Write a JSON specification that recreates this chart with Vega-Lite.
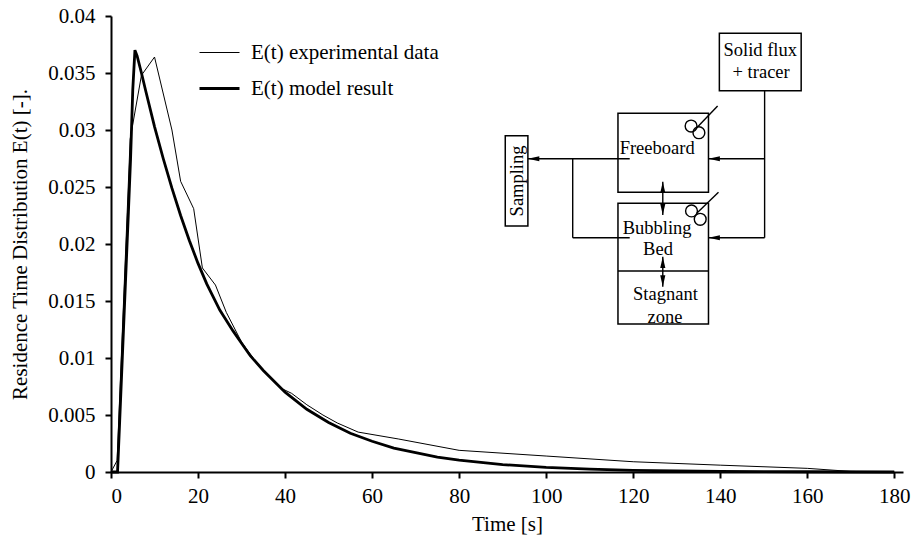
{
  "$schema": "https://vega.github.io/schema/vega-lite/v6.json",
  "autosize": {"type": "none"},
  "padding": {"left": 111, "top": 16, "right": 10, "bottom": 67},
  "width": 792,
  "height": 456,
  "background": "white",
  "config": {
    "font": "Liberation Serif",
    "view": {"stroke": null},
    "axis": {
      "grid": false,
      "domainColor": "black",
      "domainWidth": 2,
      "tickColor": "black",
      "tickWidth": 2,
      "tickSize": 6,
      "labelFont": "Liberation Serif",
      "labelFontSize": 21,
      "labelColor": "black",
      "titleFont": "Liberation Serif",
      "titleFontSize": 21,
      "titleFontWeight": "normal",
      "titleColor": "black"
    },
    "legend": {
      "labelFont": "Liberation Serif",
      "labelFontSize": 21,
      "labelColor": "black",
      "labelLimit": 400
    }
  },
  "datasets": {
    "curves": [
      {"t": 0, "E": 0, "series": "E(t) experimental data"},
      {"t": 1.4, "E": 0.001, "series": "E(t) experimental data"},
      {"t": 4.4, "E": 0.0292, "series": "E(t) experimental data"},
      {"t": 7, "E": 0.0348, "series": "E(t) experimental data"},
      {"t": 10, "E": 0.0364, "series": "E(t) experimental data"},
      {"t": 14, "E": 0.03, "series": "E(t) experimental data"},
      {"t": 16, "E": 0.0255, "series": "E(t) experimental data"},
      {"t": 19, "E": 0.0231, "series": "E(t) experimental data"},
      {"t": 21, "E": 0.0179, "series": "E(t) experimental data"},
      {"t": 24, "E": 0.0164, "series": "E(t) experimental data"},
      {"t": 26.5, "E": 0.014, "series": "E(t) experimental data"},
      {"t": 30, "E": 0.0114, "series": "E(t) experimental data"},
      {"t": 34, "E": 0.0093, "series": "E(t) experimental data"},
      {"t": 38.8, "E": 0.0074, "series": "E(t) experimental data"},
      {"t": 41.5, "E": 0.0069, "series": "E(t) experimental data"},
      {"t": 45, "E": 0.0059, "series": "E(t) experimental data"},
      {"t": 48.7, "E": 0.005, "series": "E(t) experimental data"},
      {"t": 52, "E": 0.0043, "series": "E(t) experimental data"},
      {"t": 56.8, "E": 0.0035, "series": "E(t) experimental data"},
      {"t": 66, "E": 0.0029, "series": "E(t) experimental data"},
      {"t": 80, "E": 0.0019, "series": "E(t) experimental data"},
      {"t": 100, "E": 0.0014, "series": "E(t) experimental data"},
      {"t": 120, "E": 0.0009, "series": "E(t) experimental data"},
      {"t": 140, "E": 0.0006, "series": "E(t) experimental data"},
      {"t": 160, "E": 0.00032, "series": "E(t) experimental data"},
      {"t": 170, "E": 0.00005, "series": "E(t) experimental data"},
      {"t": 180, "E": 0, "series": "E(t) experimental data"},
      {"t": 0, "E": 0, "series": "E(t) model result"},
      {"t": 1.5, "E": 0, "series": "E(t) model result"},
      {"t": 2, "E": 0.0045, "series": "E(t) model result"},
      {"t": 3, "E": 0.0137, "series": "E(t) model result"},
      {"t": 4, "E": 0.0228, "series": "E(t) model result"},
      {"t": 4.5, "E": 0.0275, "series": "E(t) model result"},
      {"t": 5, "E": 0.0335, "series": "E(t) model result"},
      {"t": 5.5, "E": 0.037, "series": "E(t) model result"},
      {"t": 6, "E": 0.0365, "series": "E(t) model result"},
      {"t": 7, "E": 0.035, "series": "E(t) model result"},
      {"t": 8, "E": 0.0334, "series": "E(t) model result"},
      {"t": 10, "E": 0.0303, "series": "E(t) model result"},
      {"t": 12, "E": 0.0275, "series": "E(t) model result"},
      {"t": 14, "E": 0.0249, "series": "E(t) model result"},
      {"t": 16, "E": 0.0225, "series": "E(t) model result"},
      {"t": 18, "E": 0.0203, "series": "E(t) model result"},
      {"t": 20, "E": 0.0183, "series": "E(t) model result"},
      {"t": 22, "E": 0.0165, "series": "E(t) model result"},
      {"t": 25, "E": 0.0142, "series": "E(t) model result"},
      {"t": 28, "E": 0.0124, "series": "E(t) model result"},
      {"t": 30, "E": 0.0113, "series": "E(t) model result"},
      {"t": 32, "E": 0.0102, "series": "E(t) model result"},
      {"t": 35, "E": 0.0089, "series": "E(t) model result"},
      {"t": 40, "E": 0.007, "series": "E(t) model result"},
      {"t": 45, "E": 0.0055, "series": "E(t) model result"},
      {"t": 50, "E": 0.00435, "series": "E(t) model result"},
      {"t": 55, "E": 0.0034, "series": "E(t) model result"},
      {"t": 60, "E": 0.0027, "series": "E(t) model result"},
      {"t": 65, "E": 0.0021, "series": "E(t) model result"},
      {"t": 70, "E": 0.0017, "series": "E(t) model result"},
      {"t": 75, "E": 0.0013, "series": "E(t) model result"},
      {"t": 80, "E": 0.00104, "series": "E(t) model result"},
      {"t": 90, "E": 0.00065, "series": "E(t) model result"},
      {"t": 100, "E": 0.0004, "series": "E(t) model result"},
      {"t": 110, "E": 0.00025, "series": "E(t) model result"},
      {"t": 120, "E": 0.00015, "series": "E(t) model result"},
      {"t": 140, "E": 0.00006, "series": "E(t) model result"},
      {"t": 160, "E": 0.00002, "series": "E(t) model result"},
      {"t": 180, "E": 0, "series": "E(t) model result"}
    ],
    "boxes": [
      {"name": "Solid flux + tracer", "t": 139.8, "t2": 158.6, "E": 0.03345, "E2": 0.03848},
      {"name": "Freeboard", "t": 116.5, "t2": 137.3, "E": 0.02454, "E2": 0.03147},
      {"name": "Bubbling bed", "t": 116.5, "t2": 137.3, "E": 0.01298, "E2": 0.02357},
      {"name": "Sampling", "t": 90.6, "t2": 95.8, "E": 0.02158, "E2": 0.0295}
    ],
    "links": [
      {"name": "bed / stagnant divider", "t": 116.5, "t2": 137.3, "E": 0.01763, "E2": 0.01763},
      {"name": "feed riser", "t": 150.2, "t2": 150.2, "E": 0.03345, "E2": 0.02055},
      {"name": "feed to freeboard", "t": 150.2, "t2": 137.3, "E": 0.02748, "E2": 0.02748},
      {"name": "feed to bed", "t": 150.2, "t2": 137.3, "E": 0.02055, "E2": 0.02055},
      {"name": "outlet to sampling", "t": 119.2, "t2": 95.8, "E": 0.02748, "E2": 0.02748},
      {"name": "bed outlet riser", "t": 106.1, "t2": 106.1, "E": 0.02748, "E2": 0.02055},
      {"name": "bed outlet", "t": 106.1, "t2": 119.2, "E": 0.02055, "E2": 0.02055},
      {"name": "freeboard / bed exchange", "t": 126.8, "t2": 126.8, "E": 0.02547, "E2": 0.02254},
      {"name": "bed / stagnant exchange", "t": 126.8, "t2": 126.8, "E": 0.01889, "E2": 0.01625},
      {"name": "freeboard stirrer shaft", "t": 134.5, "t2": 139.4, "E": 0.03015, "E2": 0.03211},
      {"name": "bed stirrer shaft", "t": 134.6, "t2": 139.6, "E": 0.02269, "E2": 0.02454}
    ],
    "stirrers": [
      {"t": 133.3, "E": 0.03035},
      {"t": 135.1, "E": 0.02976},
      {"t": 133.4, "E": 0.0229},
      {"t": 135.4, "E": 0.02217}
    ],
    "arrowheads": [
      {"t": 137.3, "E": 0.02748, "dir": "left"},
      {"t": 137.3, "E": 0.02055, "dir": "left"},
      {"t": 95.8, "E": 0.02748, "dir": "left"},
      {"t": 126.8, "E": 0.02547, "dir": "up"},
      {"t": 126.8, "E": 0.02254, "dir": "down"},
      {"t": 126.8, "E": 0.01889, "dir": "up"},
      {"t": 126.8, "E": 0.01625, "dir": "down"}
    ],
    "labels": [
      {"t": 149.2, "E": 0.03702, "label": "Solid flux"},
      {"t": 149.4, "E": 0.03509, "label": "+ tracer"},
      {"t": 125.5, "E": 0.02842, "label": "Freeboard"},
      {"t": 125.5, "E": 0.02143, "label": "Bubbling"},
      {"t": 125.7, "E": 0.01953, "label": "Bed"},
      {"t": 127.4, "E": 0.01561, "label": "Stagnant"},
      {"t": 127.3, "E": 0.01362, "label": "zone"}
    ],
    "sideLabels": [
      {"t": 93.2, "E": 0.02553, "label": "Sampling"}
    ]
  },
  "encoding": {
    "x": {
      "field": "t",
      "type": "quantitative",
      "scale": {"domain": [0, 182], "nice": false, "zero": false},
      "axis": {
        "title": "Time [s]",
        "values": [0, 20, 40, 60, 80, 100, 120, 140, 160, 180],
        "format": "d",
        "labelFont": "Liberation Serif",
        "labelFontSize": 21,
        "labelPadding": 7,
        "titlePadding": 7
      }
    },
    "y": {
      "field": "E",
      "type": "quantitative",
      "scale": {"domain": [0, 0.04], "nice": false, "zero": false},
      "axis": {
        "title": "Residence Time Distribution E(t) [-].",
        "values": [0, 0.005, 0.01, 0.015, 0.02, 0.025, 0.03, 0.035, 0.04],
        "format": "~g",
        "labelFont": "Liberation Serif",
        "labelFontSize": 21,
        "labelPadding": 10,
        "titlePadding": 17
      }
    }
  },
  "layer": [
    {
      "data": {"name": "curves"},
      "mark": {"type": "line", "color": "black", "strokeJoin": "miter"},
      "encoding": {
        "strokeWidth": {
          "field": "series",
          "type": "nominal",
          "scale": {"domain": ["E(t) experimental data", "E(t) model result"], "range": [1, 2.8]},
          "legend": {
            "title": null,
            "orient": "none",
            "legendX": 87,
            "legendY": 26,
            "padding": 0,
            "symbolType": "M-1,0H3",
            "symbolSize": 400,
            "symbolStrokeColor": "black",
            "symbolFillColor": "transparent",
            "labelFont": "Liberation Serif",
            "labelFontSize": 21,
            "labelColor": "black",
            "labelLimit": 400,
            "labelOffset": 30,
            "rowPadding": 14
          }
        }
      }
    },
    {
      "data": {"name": "boxes"},
      "mark": {"type": "rect", "fill": null, "fillOpacity": 0, "stroke": "black", "strokeWidth": 1.5},
      "encoding": {
        "x2": {"field": "t2"},
        "y2": {"field": "E2"}
      }
    },
    {
      "data": {"name": "links"},
      "mark": {"type": "rule", "color": "black", "strokeWidth": 1.4},
      "encoding": {
        "x2": {"field": "t2"},
        "y2": {"field": "E2"}
      }
    },
    {
      "data": {"name": "stirrers"},
      "mark": {"type": "point", "shape": "circle", "filled": false, "size": 140, "stroke": "black", "strokeWidth": 1.4, "opacity": 1}
    },
    {
      "data": {"name": "arrowheads"},
      "mark": {"type": "point", "filled": true, "color": "black", "size": 130, "opacity": 1},
      "encoding": {
        "shape": {
          "field": "dir",
          "type": "nominal",
          "scale": {
            "domain": ["left", "up", "down"],
            "range": ["M0,0L2,-0.45L2,0.45Z", "M0,0L-0.45,2L0.45,2Z", "M0,0L-0.45,-2L0.45,-2Z"]
          },
          "legend": null
        }
      }
    },
    {
      "data": {"name": "labels"},
      "mark": {"type": "text", "font": "Liberation Serif", "fontSize": 18.5, "color": "black", "align": "center", "baseline": "middle"},
      "encoding": {"text": {"field": "label"}}
    },
    {
      "data": {"name": "sideLabels"},
      "mark": {"type": "text", "font": "Liberation Serif", "fontSize": 18.5, "color": "black", "align": "center", "baseline": "middle", "angle": 270},
      "encoding": {"text": {"field": "label"}}
    }
  ]
}
